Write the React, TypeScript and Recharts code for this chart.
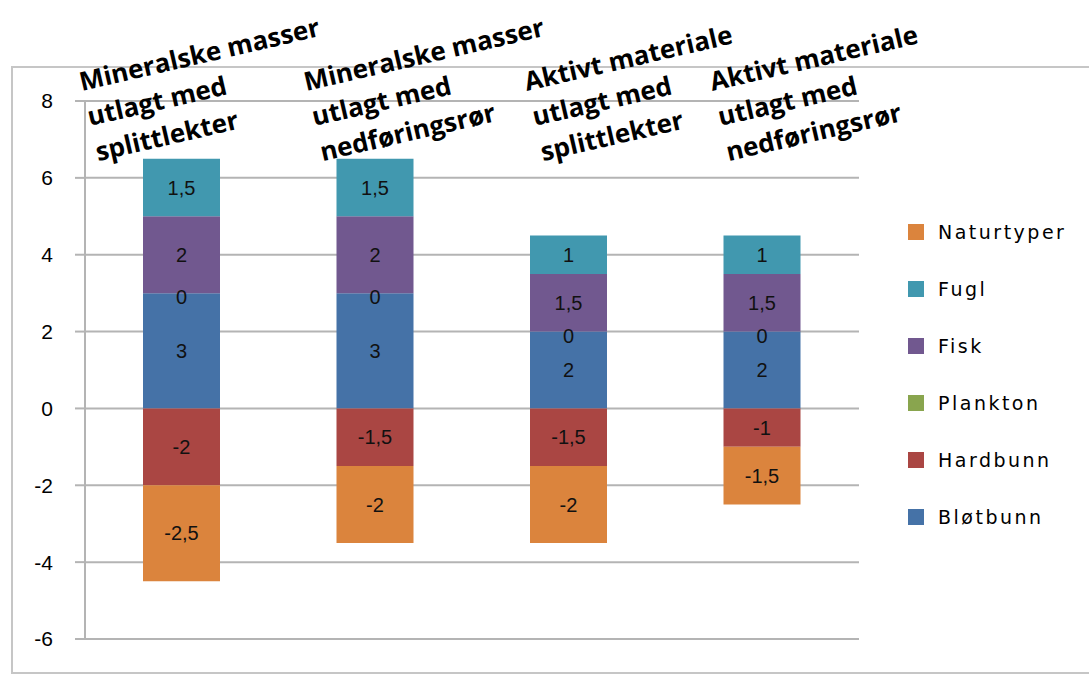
import { BarChart, Bar, XAxis, YAxis, CartesianGrid, LabelList } from 'recharts'

const categories = [
  'Mineralske masser\nutlagt med\nsplittlekter',
  'Mineralske masser\nutlagt med\nnedføringsrør',
  'Aktivt materiale\nutlagt med\nsplittlekter',
  'Aktivt materiale\nutlagt med\nnedføringsrør',
]

const blotbunn = [3, 3, 2, 2]
const hardbunn = [-2, -1.5, -1.5, -1]
const plankton = [0, 0, 0, 0]
const fisk = [2, 2, 1.5, 1.5]
const fugl = [1.5, 1.5, 1, 1]
const naturtyper = [-2.5, -2, -2, -1.5]

const yTicks = [-6, -4, -2, 0, 2, 4, 6, 8]

// stacking order (bottom to top), legend is drawn reversed
const series = [
  { key: 'Bløtbunn', values: blotbunn, color: '#4572A7' },
  { key: 'Hardbunn', values: hardbunn, color: '#AA4643' },
  { key: 'Plankton', values: plankton, color: '#89A54E' },
  { key: 'Fisk', values: fisk, color: '#71588F' },
  { key: 'Fugl', values: fugl, color: '#4198AF' },
  { key: 'Naturtyper', values: naturtyper, color: '#DB843D' },
]
const legendOrder = ['Naturtyper', 'Fugl', 'Fisk', 'Plankton', 'Hardbunn', 'Bløtbunn']

const data = categories.map((name, i) => {
  const row: Record<string, string | number> = { name }
  series.forEach(s => { row[s.key] = s.values[i] })
  return row
})

// where each slanted label starts, relative to the bar centre
const labelShift = [-100, -69, -42, -50]

const fmt = (v: any) => String(v).replace('.', ',')
const labelFont = { fontFamily: "'Liberation Sans', sans-serif", fontSize: 20, fill: '#111' }

const renderCategoryTick = (props: any) => {
  const { x, payload } = props
  const idx = categories.indexOf(payload.value)
  const lines = String(payload.value).split('\n')
  return (
    <g transform={`translate(${x + labelShift[idx]}, 91) rotate(-13)`}>
      {lines.map((l, i) => (
        <text key={i} x={0} y={i * 36} textAnchor="start"
          fontFamily="'Open Sans', sans-serif" fontWeight={700} fontSize={26} fill="#000">
          {l}
        </text>
      ))}
    </g>
  )
}

// zero-height plankton segments: label sits on top of the Bløtbunn block
const renderPlanktonLabel = (props: any) => {
  const { x, y, width, value } = props
  return (
    <text x={x + width / 2} y={y + 4} textAnchor="middle" dominantBaseline="central" {...labelFont}>
      {fmt(value)}
    </text>
  )
}

export default function App() {
  return (
    <div style={{ position: 'absolute', left: 0, top: 0, width: 1089, height: 674, overflow: 'hidden', background: '#fff' }}>
      <div style={{
        position: 'absolute', left: 11, top: 66, width: 1120, height: 608,
        border: '2px solid #c6c6c6', boxSizing: 'border-box'
      }} />
      <div style={{ position: 'absolute', left: 0, top: 0 }}>
        <BarChart width={1089} height={674} data={data} stackOffset="sign"
          margin={{ top: 100, right: 230, bottom: 35, left: 0 }}>
          <CartesianGrid vertical={false} stroke="#b4b4b4" strokeWidth={2} />
          <XAxis dataKey="name" orientation="top" height={1} axisLine={false} tickLine={false}
            interval={0} tick={renderCategoryTick} />
          <YAxis width={85} domain={[-6, 8]} ticks={yTicks} interval={0}
            axisLine={{ stroke: '#b4b4b4', strokeWidth: 2 }}
            tickLine={{ stroke: '#b4b4b4', strokeWidth: 2 }} tickSize={10} tickMargin={22}
            tick={{ fontFamily: "'Liberation Sans', sans-serif", fontSize: 21, fill: '#000' }} />
          {series.map(s => (
            <Bar key={s.key} dataKey={s.key} stackId="a" fill={s.color} barSize={77}
              isAnimationActive={false}>
              {s.key === 'Bløtbunn' ? (
                <LabelList dataKey="Plankton" content={renderPlanktonLabel} />
              ) : null}
              {s.key !== 'Plankton' ? (
                <LabelList dataKey={s.key} position="center" formatter={fmt} style={labelFont} />
              ) : null}
            </Bar>
          ))}
        </BarChart>
      </div>
      {legendOrder.map((k, i) => {
        const s = series.find(x => x.key === k)!
        return (
          <div key={k} style={{ position: 'absolute', left: 908, top: 220 + i * 57, height: 24, display: 'flex', alignItems: 'center' }}>
            <div style={{ width: 16, height: 16, background: s.color }} />
            <span style={{
              marginLeft: 14, fontFamily: "'DejaVu Sans', sans-serif", fontSize: 19,
              letterSpacing: 2.5, color: '#000'
            }}>{k}</span>
          </div>
        )
      })}
    </div>
  )
}
